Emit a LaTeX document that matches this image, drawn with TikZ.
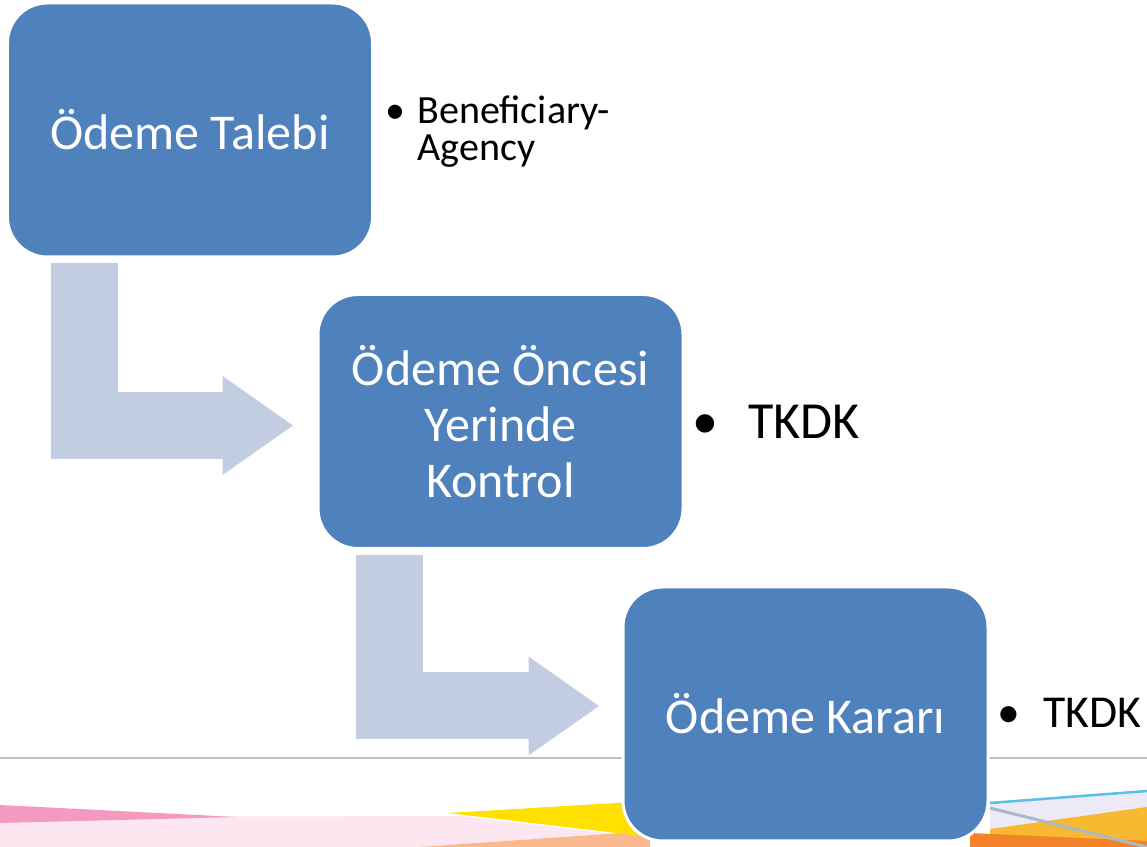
\documentclass[tikz,border=0pt]{standalone}
\usepackage{fontspec}
\setmainfont{Carlito}
\usetikzlibrary{arrows.meta}
\definecolor{boxblue}{RGB}{79,129,189}
\definecolor{arrowblue}{RGB}{195,205,226}
\definecolor{rulegray}{RGB}{191,191,191}
\definecolor{streakpink}{RGB}{244,154,193}
\definecolor{palepink}{RGB}{252,230,240}
\definecolor{sunyellow}{RGB}{255,224,0}
\definecolor{peach}{RGB}{250,185,140}
\definecolor{gold}{RGB}{248,185,50}
\definecolor{deeporange}{RGB}{244,130,40}
\definecolor{lavender}{RGB}{236,234,246}
\definecolor{skyline}{RGB}{90,190,230}
\definecolor{greyblue}{RGB}{170,185,200}
\begin{document}
\begin{tikzpicture}[>=latex,
    box/.style={draw=white, line width=0.06cm, fill=boxblue, rounded corners=0.8cm,
        minimum width=7.3cm, minimum height=5.08cm, inner sep=0, outer sep=0,
        text=white, align=center, font=\fontsize{28.5}{31.9}\selectfont},
    flowarrow/.style={draw=arrowblue, line width=1.34cm,
        -{Triangle[length=1.41cm, width=1.98cm, line width=0pt]}},
    note/.style={anchor=west, inner sep=0, align=left}]
\useasboundingbox (0,0) rectangle (22.94,16.94);
\draw[rulegray, line width=0.04cm](0,1.78)--(22.94,1.78);
\fill[palepink](0,0)--(0,0.6)--(9.2,0.62)--(12.6,0.22)--(12.6,0)--cycle;
\fill[streakpink](0,0.84)--(4.74,0.6)--(0,0.48)--cycle;
\fill[peach](8.4,0)--(13,0.32)--(13,0)--cycle;
\fill[sunyellow](8.96,0.68)--(13,0.92)--(13,0.2)--cycle;
\fill[lavender](19.8,0.9)--(22.94,1.14)--(22.94,0)--(19.8,0)--cycle;
\fill[gold](19.8,0.36)--(22.94,0.8)--(22.94,0)--(19.8,0)--cycle;
\fill[deeporange](19.4,0.28)--(22.94,0.12)--(22.94,0)--(19.4,0)--cycle;
\draw[skyline, line width=0.05cm](19.8,0.88)--(22.94,1.12);
\draw[greyblue, line width=0.06cm](19.8,0.78)--(22.94,0);
\node[box] (talep) at (3.8,14.34) {Ödeme Talebi};
\node[box] (kontrol) at (10.01,8.51) {Ödeme Öncesi\\Yerinde\\Kontrol};
\node[box] (karar) at (16.11,2.66) {Ödeme Kararı};
\draw[flowarrow, shorten <=0.12cm, shorten >=0.5cm]([xshift=1.53cm]talep.south west) |- ([yshift=-0.08cm]kontrol.west);
\draw[flowarrow, shorten <=0.14cm, shorten >=0.48cm]([xshift=1.43cm]kontrol.south west) |- ([yshift=0.16cm]karar.west);
\node[note, font=\fontsize{22.8}{21}\selectfont] (ajans) at (8.34,14.3) {\llap{\textbullet\hspace{0.24cm}}Beneficiary-\\Agency};
\node[note, font=\fontsize{29.6}{32}\selectfont] (tkdk1) at (14.96,8.5) {\llap{\textbullet\hspace{0.6cm}}TKDK};
\node[note, font=\fontsize{26}{28}\selectfont] (tkdk2) at (20.86,2.68) {\llap{\textbullet\hspace{0.46cm}}TKDK};
\end{tikzpicture}
\end{document}
